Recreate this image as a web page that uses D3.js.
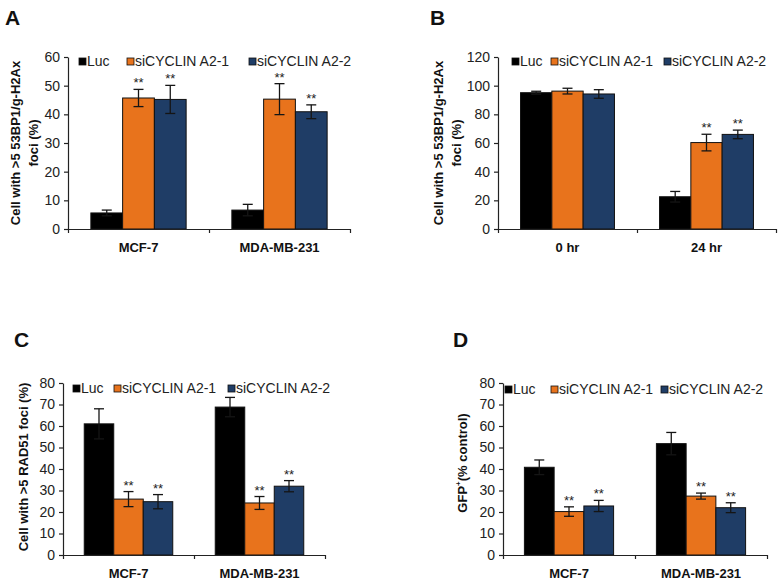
<!DOCTYPE html>
<html><head><meta charset="utf-8">
<script src="https://cdn.jsdelivr.net/npm/d3@7"></script>
<style>
html,body{margin:0;padding:0;background:#fff;}
svg{display:block;font-family:"Liberation Sans",Arial,sans-serif;}
</style></head>
<body>
<svg id="chart" width="780" height="586"></svg>
<script>
// ---------- data ----------
const seriesNames = ["Luc", "siCYCLIN A2-1", "siCYCLIN A2-2"];
const seriesColors = ["#000000", "#E8731C", "#1F3D66"];

const catsA = ["MCF-7", "MDA-MB-231"];
const valsA = [[5.6, 6.6], [45.7, 45.3], [45.2, 40.9]];
const errsA = [[1.0, 2.0], [3.0, 5.4], [4.9, 2.4]];
const starsA = [["", ""], ["**", "**"], ["**", "**"]];
const ticksA = [0, 10, 20, 30, 40, 50, 60];

const catsB = ["0 hr", "24 hr"];
const valsB = [[95.1, 22.5], [96.2, 60.3], [94.2, 66.0]];
const errsB = [[1.0, 3.7], [2.0, 5.8], [3.0, 3.0]];
const starsB = [["", ""], ["", "**"], ["", "**"]];
const ticksB = [0, 20, 40, 60, 80, 100, 120];

const catsC = ["MCF-7", "MDA-MB-231"];
const valsC = [[61.0, 68.8], [26.0, 24.2], [24.8, 32.0]];
const errsC = [[7.0, 4.5], [3.5, 3.0], [3.3, 2.6]];
const starsC = [["", ""], ["**", "**"], ["**", "**"]];
const ticksC = [0, 10, 20, 30, 40, 50, 60, 70, 80];

const catsD = ["MCF-7", "MDA-MB-231"];
const valsD = [[40.8, 51.8], [20.2, 27.4], [22.8, 22.0]];
const errsD = [[3.4, 5.2], [2.2, 1.4], [2.6, 2.3]];
const starsD = [["", ""], ["**", "**"], ["**", "**"]];
const ticksD = [0, 10, 20, 30, 40, 50, 60, 70, 80];

// ---------- layout ----------
const panels = [
  {label: "A", lx: 5, ly: 25, cats: catsA, vals: valsA, errs: errsA, stars: starsA, ticks: ticksA,
   x0: 68, x1: 350, yTop: 57, yBot: 229, catY: 252,
   ytitle: ["Cell with >5 53BP1/g-H2Ax", "foci (%)"], ytx: [20, 38], yty: 143,
   legX: [79, 127, 249], legY: 62},
  {label: "B", lx: 430, ly: 25, cats: catsB, vals: valsB, errs: errsB, stars: starsB, ticks: ticksB,
   x0: 498, x1: 776, yTop: 57, yBot: 229, catY: 252,
   ytitle: ["Cell with >5 53BP1/g-H2Ax", "foci (%)"], ytx: [443, 461], yty: 143,
   legX: [512, 551, 664], legY: 62},
  {label: "C", lx: 14, ly: 347, cats: catsC, vals: valsC, errs: errsC, stars: starsC, ticks: ticksC,
   x0: 63, x1: 325, yTop: 383, yBot: 555, catY: 578,
   ytitle: ["Cell with >5 RAD51 foci (%)"], ytx: [28], yty: 467,
   legX: [73, 114, 228], legY: 389},
  {label: "D", lx: 453, ly: 347, cats: catsD, vals: valsD, errs: errsD, stars: starsD, ticks: ticksD,
   x0: 503, x1: 767, yTop: 383, yBot: 555, catY: 578,
   ytitle: ["GFP", "+", "(% control)"], ytx: [467], yty: 463,
   legX: [505, 551, 661], legY: 390}
];

const svg = d3.select("#chart");

panels.forEach(p => {
  const g = svg.append("g");
  // panel letter
  g.append("text").attr("x", p.lx).attr("y", p.ly)
    .attr("font-size", 21).attr("font-weight", "bold").attr("fill", "#111").text(p.label);

  const yMax = p.ticks[p.ticks.length - 1];
  const y = d3.scaleLinear().domain([0, yMax]).range([p.yBot, p.yTop]);
  const xCat = d3.scaleBand().domain(p.cats).range([p.x0, p.x1]).padding(0);
  const xSer = d3.scaleBand().domain(seriesNames).range([0, xCat.bandwidth()])
    .paddingInner(0).paddingOuter(0.72);

  // bars
  seriesNames.forEach((s, si) => {
    p.cats.forEach((c, ci) => {
      const v = p.vals[si][ci];
      g.append("rect")
        .attr("x", xCat(c) + xSer(s))
        .attr("y", y(v))
        .attr("width", xSer.bandwidth())
        .attr("height", y(0) - y(v))
        .attr("fill", seriesColors[si])
        .attr("stroke", "#111").attr("stroke-width", 1);
    });
  });

  // error bars + stars
  seriesNames.forEach((s, si) => {
    p.cats.forEach((c, ci) => {
      const v = p.vals[si][ci], e = p.errs[si][ci];
      const cx = xCat(c) + xSer(s) + xSer.bandwidth() / 2;
      const eg = g.append("g").attr("stroke", "#151515").attr("stroke-width", 1.3);
      eg.append("line").attr("x1", cx).attr("x2", cx).attr("y1", y(v - e)).attr("y2", y(v + e));
      eg.append("line").attr("x1", cx - 5).attr("x2", cx + 5).attr("y1", y(v + e)).attr("y2", y(v + e));
      eg.append("line").attr("x1", cx - 5).attr("x2", cx + 5).attr("y1", y(v - e)).attr("y2", y(v - e));
      const st = p.stars[si][ci];
      if (st) {
        g.append("text").attr("x", cx).attr("y", y(v + e) - 2)
          .attr("text-anchor", "middle").attr("font-size", 13).attr("fill", "#222").text(st);
      }
    });
  });

  // y axis
  const ya = g.append("g").attr("transform", `translate(${p.x0},0)`)
    .call(d3.axisLeft(y).tickValues(p.ticks).tickSize(4).tickSizeOuter(0).tickPadding(4));
  ya.select(".domain").attr("stroke", "#222").attr("stroke-width", 1.2);
  ya.selectAll(".tick line").attr("stroke", "#222").attr("stroke-width", 1.2);
  ya.selectAll(".tick text").attr("font-size", 14).attr("fill", "#222")
    .attr("font-family", "Liberation Sans, Arial, sans-serif");

  // x axis line with boundary ticks
  const xb = d3.scaleLinear().domain([0, p.cats.length]).range([p.x0, p.x1]);
  const xa = g.append("g").attr("transform", `translate(0,${p.yBot})`)
    .call(d3.axisBottom(xb).tickValues(d3.range(p.cats.length + 1)).tickSize(4).tickSizeOuter(0).tickFormat(""));
  xa.select(".domain").attr("stroke", "#222").attr("stroke-width", 1.2);
  xa.selectAll(".tick line").attr("stroke", "#222").attr("stroke-width", 1.2);

  // category labels
  const xl = g.append("g").attr("transform", `translate(0,${p.catY})`)
    .call(d3.axisBottom(xCat).tickSize(0).tickPadding(0));
  xl.select(".domain").remove();
  xl.selectAll(".tick text").attr("dy", 0).attr("font-size", 13).attr("font-weight", "bold")
    .attr("fill", "#111").attr("font-family", "Liberation Sans, Arial, sans-serif");

  // y title
  if (p.label === "D") {
    const t = g.append("text").attr("transform", `translate(${p.ytx[0]},${p.yty}) rotate(-90)`)
      .attr("text-anchor", "middle").attr("font-size", 13).attr("font-weight", "bold").attr("fill", "#111");
    t.append("tspan").text(p.ytitle[0]);
    t.append("tspan").attr("font-size", 8).attr("dy", -6).text(p.ytitle[1]);
    t.append("tspan").attr("dy", 6).text(p.ytitle[2]);
  } else {
    p.ytitle.forEach((line, i) => {
      g.append("text").attr("transform", `translate(${p.ytx[i]},${p.yty}) rotate(-90)`)
        .attr("text-anchor", "middle").attr("font-size", 13).attr("font-weight", "bold")
        .attr("fill", "#111").text(line);
    });
  }

  // legend
  seriesNames.forEach((s, si) => {
    g.append("rect").attr("x", p.legX[si]).attr("y", p.legY - 4).attr("width", 7).attr("height", 7)
      .attr("fill", seriesColors[si]).attr("stroke", "#111").attr("stroke-width", 0.8);
    g.append("text").attr("x", p.legX[si] + 8).attr("y", p.legY + 4)
      .attr("font-size", 14).attr("fill", "#222").text(s);
  });
});
</script>
</body></html>
